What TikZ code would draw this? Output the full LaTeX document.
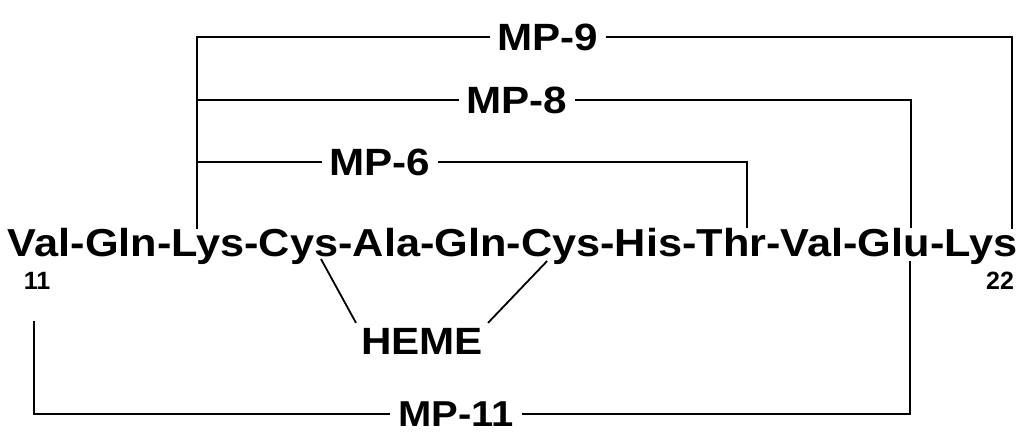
\documentclass[tikz,border=0pt]{standalone}
\usepackage{fontspec}
\setmainfont{Liberation Sans}
\newfontfamily\seqfont[FakeStretch=1.11]{Liberation Sans}
\usetikzlibrary{calc}
\begin{document}
\begin{tikzpicture}[x=1pt,y=-1pt,line width=2.2pt,
  res/.style={inner sep=0pt,outer sep=0pt,anchor=base west,
    font=\seqfont\bfseries\fontsize{39}{39}\selectfont},
  lab/.style={inner sep=7pt,font=\seqfont\bfseries\fontsize{38}{38}\selectfont},
  num/.style={inner sep=0pt,font=\bfseries\fontsize{25}{25}\selectfont}]
\useasboundingbox (0,0) rectangle (1033,432);
% peptide chain
\node[res] (r1) at (8,256) {Val};
\node[res] (h1) at (r1.base east) {-};
\node[res] (r2) at (h1.base east) {Gln};
\node[res] (h2) at (r2.base east) {-};
\node[res] (r3) at (h2.base east) {Lys};
\node[res] (h3) at (r3.base east) {-};
\node[res] (r4) at (h3.base east) {Cys};
\node[res] (h4) at (r4.base east) {-};
\node[res] (r5) at (h4.base east) {Ala};
\node[res] (h5) at (r5.base east) {-};
\node[res] (r6) at (h5.base east) {Gln};
\node[res] (h6) at (r6.base east) {-};
\node[res] (r7) at (h6.base east) {Cys};
\node[res] (h7) at (r7.base east) {-};
\node[res] (r8) at (h7.base east) {His};
\node[res] (h8) at (r8.base east) {-};
\node[res] (r9) at (h8.base east) {Thr};
\node[res] (h9) at (r9.base east) {-};
\node[res] (r10) at (h9.base east) {Val};
\node[res] (h10) at (r10.base east) {-};
\node[res] (r11) at (h10.base east) {Glu};
\node[res] (h11) at (r11.base east) {-};
\node[res] (r12) at (h11.base east) {Lys};
% residue numbers
\node[num] (n11) at (37,281) {11};
\node[num] (n22) at (1000,281) {22};
% labels
\node[lab] (mp9) at (548,37) {MP-9};
\node[lab] (mp8) at (517,100) {MP-8};
\node[lab] (mp6) at (380,162) {MP-6};
\node[lab,font=\seqfont\bfseries\fontsize{36}{36}\selectfont] (mp11) at (456,414) {MP-11};
\node[lab,inner sep=4pt] (heme) at (422,341) {HEME};
% bracket corners
\coordinate (v9l) at (197,37);
\coordinate (v9r) at (1012,37);
\coordinate (v8l) at (197,100);
\coordinate (v8r) at (911,100);
\coordinate (v6l) at (197,162);
\coordinate (v6r) at (747,162);
\coordinate (t11l) at (34,321);
\coordinate (b11l) at (34,414);
\coordinate (b11r) at (910,414);
% MP-9
\draw (v9l |- r3.north) -- (v9l) -- (mp9.west);
\draw (mp9.east) -- (v9r) -- (v9r |- r12.north);
% MP-8
\draw (v8l) -- (mp8.west);
\draw (mp8.east) -- (v8r) -- (v8r |- r11.north);
% MP-6
\draw (v6l) -- (mp6.west);
\draw (mp6.east) -- (v6r) -- (v6r |- r9.north);
% MP-11
\draw (t11l) -- (b11l) -- (mp11.west);
\draw (mp11.east) -- (b11r) -- ($(b11r |- r11.base)+(0,5)$);
% heme links
\draw[line width=1.8pt] ($(r4.base west)+(62,3)$) -- (heme.north west);
\draw[line width=1.8pt] ($(r7.base west)+(26,5)$) -- (heme.north east);
\end{tikzpicture}
\end{document}
